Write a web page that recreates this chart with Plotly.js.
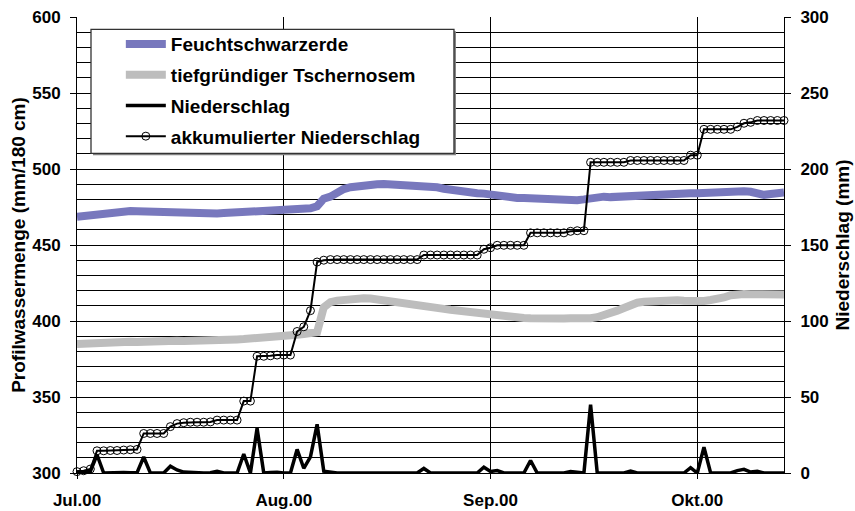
<!DOCTYPE html>
<html>
<head>
<meta charset="utf-8">
<script src="https://cdn.plot.ly/plotly-3.0.1.min.js"></script>
<style>
  html, body { margin: 0; padding: 0; background: #fff; }
  #chart { width: 855px; height: 511px; }
</style>
</head>
<body>
<div id="chart"></div>
<script>
// Daily series, 1 July 2000 to 15 October 2000
const startDate = '2000-07-01';

// Profile water content (mm / 180 cm), left axis
const feuchtschwarzerde = [
  468.6, 469.2, 469.8, 470.4, 471.0, 471.3, 471.6, 472.0, 472.4, 472.2,
  472.0, 471.8, 471.5, 471.3, 471.0, 470.8, 470.6, 470.4, 470.5, 470.4,
  470.6, 470.8, 471.0, 471.2, 471.5, 471.8, 472.2, 472.5, 472.6, 472.8,
  473.0, 473.0, 473.2, 473.5, 473.8, 474.2, 475.5, 480.5, 481.8, 484.5,
  486.8, 488.0, 488.8, 489.3, 489.8, 490.0, 490.2, 490.0, 489.6, 489.4,
  489.0, 488.5, 488.2, 488.4, 488.0, 487.0, 486.2, 485.8, 485.2, 484.6,
  484.0, 483.8, 483.0, 482.8, 482.3, 481.5, 481.0, 481.0, 480.8, 480.5,
  480.0, 479.8, 479.5, 479.2, 479.3, 479.5, 480.0, 480.8, 481.5, 481.8,
  481.5, 481.8, 482.0, 482.3, 482.5, 482.5, 483.0, 483.3, 483.2, 483.5,
  483.8, 483.8, 484.0, 484.0, 484.3, 484.8, 485.0, 485.5, 485.8, 485.6,
  485.3, 485.0, 484.0, 483.0, 483.5, 484.0, 484.5
];

const tschernosem = [
  384.9, 385.2, 385.5, 385.4, 385.8, 386.0, 385.8, 386.1, 386.3, 386.2,
  386.5, 386.4, 386.6, 386.8, 386.7, 387.0, 386.8, 387.1, 387.3, 387.2,
  387.4, 387.5, 387.7, 387.6, 387.9, 388.1, 388.3, 388.6, 389.0, 389.3,
  389.7, 390.2, 390.6, 391.0, 391.4, 391.8, 392.6, 409.0, 412.4, 413.4,
  414.0, 414.5, 414.8, 415.0, 414.8, 414.3, 413.3, 412.8, 412.2, 411.5,
  411.0, 410.3, 409.8, 409.4, 408.6, 408.0, 407.4, 406.8, 406.1, 405.6,
  405.0, 404.4, 403.9, 403.4, 403.0, 402.6, 402.3, 402.0, 401.8, 401.5,
  401.3, 401.5, 401.8, 401.6, 401.8, 401.6, 401.8, 401.8, 402.5, 403.6,
  405.0, 406.8, 408.6, 410.5, 412.0, 412.6, 413.0, 413.4, 413.6, 413.8,
  413.6, 413.3, 413.0, 412.7, 413.2, 413.8, 414.3, 415.5, 417.0, 418.0,
  417.8, 417.6, 417.5, 417.2, 417.5, 417.3, 417.5
];

// Daily precipitation (mm), right axis
const niederschlag = [
  0.9, 0.6, 1.1, 12.0, 0, 0.2, 0, 0.3, 0.2, 0.2,
  10.5, 0, 0, 0, 4.5, 2.0, 0.6, 0.3, 0, 0,
  0.2, 1.2, 0, 0, 0, 12.5, 0, 29.5, 0, 0.3,
  0.5, 0, 0, 15.5, 3.1, 10.6, 32.0, 1.2, 0.4, 0,
  0, 0, 0, 0, 0, 0, 0, 0, 0, 0,
  0, 0, 3.0, 0, 0, 0, 0, 0, 0, 0,
  0, 3.8, 1.0, 1.6, 0, 0, 0, 0, 8.2, 0,
  0, 0, 0, 0, 1.0, 0.4, 0, 45.0, 0, 0,
  0, 0, 0, 1.2, 0, 0, 0, 0, 0, 0,
  0, 0, 3.5, 0, 17.0, 0, 0, 0, 0, 1.6,
  2.4, 0.6, 1.2, 0, 0, 0, 0
];

// Accumulated precipitation (mm), right axis
const akkumuliert = [
  0.9, 1.5, 2.6, 14.6, 14.6, 14.8, 14.8, 15.1, 15.3, 15.5,
  26.0, 26.0, 26.0, 26.0, 30.5, 32.5, 33.1, 33.4, 33.4, 33.4,
  33.6, 34.8, 34.8, 34.8, 34.8, 47.3, 47.3, 76.8, 76.8, 77.1,
  77.6, 77.6, 77.6, 93.1, 96.2, 106.8, 138.8, 140.0, 140.4, 140.4,
  140.4, 140.4, 140.4, 140.4, 140.4, 140.4, 140.4, 140.4, 140.4, 140.4,
  140.4, 140.4, 143.4, 143.4, 143.4, 143.4, 143.4, 143.4, 143.4, 143.4,
  143.4, 147.2, 148.2, 149.8, 149.8, 149.8, 149.8, 149.8, 158.0, 158.0,
  158.0, 158.0, 158.0, 158.0, 159.0, 159.4, 159.4, 204.4, 204.4, 204.4,
  204.4, 204.4, 204.4, 205.6, 205.6, 205.6, 205.6, 205.6, 205.6, 205.6,
  205.6, 205.6, 209.1, 209.1, 226.1, 226.1, 226.1, 226.1, 226.1, 227.7,
  230.1, 230.7, 231.9, 231.9, 231.9, 231.9, 231.9
];

// Month ticks are placed every 31 days
const tickDates = ['2000-07-01', '2000-08-01', '2000-09-01', '2000-10-02'];
const tickLabels = ['Jul.00', 'Aug.00', 'Sep.00', 'Okt.00'];

const DAY_MS = 86400000;
const t0 = new Date(startDate + 'T00:00:00Z').getTime();
const dates = niederschlag.map((_, i) => new Date(t0 + i * DAY_MS).toISOString().slice(0, 10));

const FONT = '"Liberation Sans", Arial, sans-serif';

const traces = [
  {
    x: dates, y: feuchtschwarzerde, name: 'Feuchtschwarzerde',
    type: 'scatter', mode: 'lines', legendgroup: 'g1',
    line: { color: '#7878bd', width: 8 }
  },
  {
    x: dates, y: tschernosem, name: 'tiefgründiger Tschernosem',
    type: 'scatter', mode: 'lines', legendgroup: 'g2',
    line: { color: '#bdbdbd', width: 8 }
  },
  {
    x: dates, y: niederschlag, name: 'Niederschlag', yaxis: 'y2',
    type: 'scatter', mode: 'lines', legendgroup: 'g3',
    line: { color: '#000', width: 3.5 }
  },
  {
    x: dates, y: akkumuliert, name: 'akkumulierter Niederschlag', yaxis: 'y2',
    type: 'scatter', mode: 'lines+markers', legendgroup: 'g4', cliponaxis: false,
    line: { color: '#000', width: 2 },
    marker: { symbol: 'circle-open', size: 8, color: '#000', line: { width: 1 } }
  }
];

const layout = {
  width: 855, height: 511,
  margin: { l: 77, r: 71, t: 17, b: 38 },
  paper_bgcolor: '#fff', plot_bgcolor: '#fff',
  font: { family: FONT, size: 17, color: '#000', weight: 'bold' },
  showlegend: true,
  legend: {
    x: 0.062, y: 0.982, xanchor: 'left', yanchor: 'top',
    bgcolor: 'rgba(0,0,0,0)', borderwidth: 0,
    font: { family: FONT, size: 19, color: '#000', weight: 'bold' },
    traceorder: 'grouped', tracegroupgap: 3, itemwidth: 40
  },
  xaxis: {
    type: 'date', range: [dates[0], dates[dates.length - 1]],
    tickmode: 'array', tickvals: tickDates, ticktext: tickLabels,
    showgrid: true, gridcolor: '#000', gridwidth: 1,
    showline: true, linecolor: '#000', linewidth: 1,
    ticks: 'outside', ticklen: 5, tickcolor: '#000',
    ticklabelstandoff: 7, zeroline: false,
    tickfont: { family: FONT, size: 17, weight: 'bold' }
  },
  yaxis: {
    range: [300, 600], tickmode: 'linear', tick0: 300, dtick: 50,
    ticks: 'outside', ticklen: 6, tickcolor: '#000',
    showline: true, linecolor: '#000', linewidth: 1,
    showgrid: true, gridcolor: '#000', gridwidth: 1,
    minor: { dtick: 10, showgrid: true, gridcolor: '#000', gridwidth: 1 },
    zeroline: false, ticklabelstandoff: 6,
    tickfont: { family: FONT, size: 17, weight: 'bold' },
    title: { text: 'Profilwassermenge (mm/180 cm)', standoff: 1,
             font: { family: FONT, size: 19, weight: 'bold' } }
  },
  yaxis2: {
    range: [0, 300], overlaying: 'y', side: 'right',
    tickmode: 'linear', tick0: 0, dtick: 50,
    ticks: 'outside', ticklen: 6, tickcolor: '#000',
    showline: true, linecolor: '#000', linewidth: 1,
    showgrid: false, zeroline: false, ticklabelstandoff: 6,
    tickfont: { family: FONT, size: 17, weight: 'bold' },
    title: { text: 'Niederschlag (mm)', standoff: 7,
             font: { family: FONT, size: 19, weight: 'bold' } }
  },
  shapes: [
    // legend frame shadow
    { type: 'rect', xref: 'paper', yref: 'paper', layer: 'above',
      x0: 0.0226, x1: 0.5360, y0: 0.6966, y1: 0.9686,
      fillcolor: '#808080', line: { width: 0 } },
    // legend frame
    { type: 'rect', xref: 'paper', yref: 'paper', layer: 'above',
      x0: 0.0198, x1: 0.5332, y0: 0.7010, y1: 0.9730,
      fillcolor: '#fff', line: { color: '#333', width: 1.3 } }
  ]
};

Plotly.newPlot('chart', traces, layout, { displayModeBar: false, staticPlot: true });
</script>
</body>
</html>
